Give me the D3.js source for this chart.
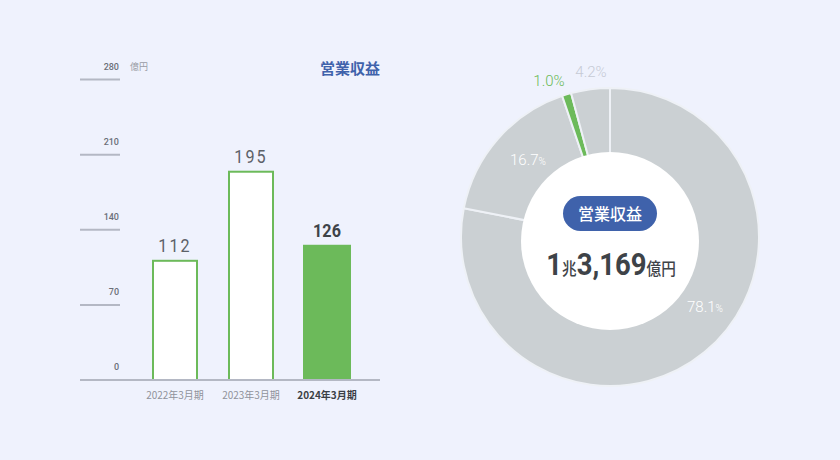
<!DOCTYPE html>
<html><head><meta charset="utf-8">
<script src="https://cdn.jsdelivr.net/npm/d3@7/dist/d3.min.js"></script>
<style>
html,body{margin:0;padding:0;background:#eff2fd;}
svg{display:block;font-family:"Noto Sans CJK JP","Noto Sans",sans-serif;}
</style></head>
<body>
<svg id="c" width="840" height="460"></svg>
<script>
const categories = ["2022年3月期", "2023年3月期", "2024年3月期"];
const values = [112, 195, 126];
const yTicks = [0, 70, 140, 210, 280];
const shareLabels = ["78.1", "16.7", "1.0", "4.2"];
const shareValues = [78.1, 16.7, 1.0, 4.2];
const totalParts = ["1", "兆", "3,169", "億円"];

const svg = d3.select("#c");
svg.append("rect").attr("width",840).attr("height",460).attr("fill","#eff2fd");
const numFont = "Roboto, 'Noto Sans', sans-serif";

// ---- Bar chart ----
const y = d3.scaleLinear().domain([0,280]).range([380,79.5]);
const x = d3.scalePoint().domain(categories).range([175,327]);
const bw = 46;

const g = svg.append("g");
yTicks.forEach(t=>{
  if(t>0) g.append("line").attr("x1",80).attr("x2",120).attr("y1",y(t)).attr("y2",y(t))
    .attr("stroke","#b4b8c4").attr("stroke-width",2);
  g.append("text").attr("x",119).attr("y",y(t)-10).attr("text-anchor","end")
    .attr("font-size",9).attr("fill","#6b6f78").attr("font-weight",500).attr("font-family",numFont).text(t);
});
g.append("text").attr("x",130).attr("y",69.5).attr("font-size",9).attr("fill","#999ca5").text("億円");
g.append("text").attr("x",380).attr("y",74).attr("text-anchor","end").attr("font-size",15).attr("font-weight",700).attr("fill","#3f62ab").text("営業収益");

categories.forEach((c,i)=>{
  const last = i===categories.length-1;
  const top = y(values[i]);
  if(last){
    g.append("rect").attr("x",x(c)-bw/2-1).attr("y",top).attr("width",bw+2).attr("height",380-top).attr("fill","#6cba5a");
  } else {
    g.append("rect").attr("x",x(c)-bw/2+1).attr("y",top+1).attr("width",bw-2).attr("height",380-top-1)
      .attr("fill","#ffffff").attr("stroke","#6cba5a").attr("stroke-width",2);
  }
  g.append("g").attr("transform",`translate(${x(c)},${top-8}) scale(0.85,1)`)
    .append("text").attr("text-anchor","middle")
    .attr("font-size",19).attr("letter-spacing", last?"0px":"2.5px")
    .attr("font-weight", last?700:400).attr("fill", last?"#3e4348":"#5c6168")
    .attr("font-family",numFont).text(values[i]);
  g.append("text").attr("x",x(c)).attr("y",399).attr("text-anchor","middle")
    .attr("font-size",10).attr("font-weight", last?700:400).attr("fill", last?"#3b3f45":"#8f939b").text(c);
});
g.append("line").attr("x1",80).attr("x2",380).attr("y1",380).attr("y2",380).attr("stroke","#b4b8c4").attr("stroke-width",2);

// ---- Donut ----
const cx=610, cy=237, R=149;
const dg = svg.append("g").attr("transform",`translate(${cx},${cy})`);
const pie = d3.pie().sort(null).value(d=>d)(shareValues);
const arc = d3.arc().innerRadius(0).outerRadius(R);
const colors = ["#cbd0d3","#cbd0d3","#6cba5a","#cbd0d3"];
dg.selectAll("path.s").data(pie).enter().append("path").attr("class","s")
  .attr("d",arc).attr("fill",(d,i)=>colors[i]).attr("stroke","#eef1f6").attr("stroke-width",2);
// inner white hole
svg.append("circle").attr("cx",610).attr("cy",241).attr("r",89).attr("fill","#ffffff");

const labCol = ["#ffffff","#ffffff","#6cba5a","#c6cad5"];
const labPos = [[705,312],[528,165],[549,86],[591,77]];
pie.forEach((d,i)=>{
  const t = svg.append("text").attr("x",labPos[i][0]).attr("y",labPos[i][1]).attr("text-anchor","middle")
    .attr("fill",labCol[i]).attr("font-size",15).attr("font-family",numFont).attr("font-weight",300);
  t.append("tspan").text(shareLabels[i]);
  t.append("tspan").attr("font-size", i<2?10:15).text("%");
});

// center pill
svg.append("rect").attr("x",563).attr("y",196).attr("width",94).attr("height",35).attr("rx",17.5).attr("fill","#3f62ab");
svg.append("text").attr("x",610).attr("y",219.5).attr("text-anchor","middle").attr("font-size",16).attr("font-weight",500)
  .attr("fill","#ffffff").text("営業収益");
const tt = svg.append("g").attr("transform","translate(611,275) scale(0.86,1)")
  .append("text").attr("text-anchor","middle").attr("fill","#3e4348").attr("font-weight",700);
tt.append("tspan").attr("font-size",32).attr("font-family",numFont).text(totalParts[0]);
tt.append("tspan").attr("font-size",17).attr("font-weight",500).text(totalParts[1]);
tt.append("tspan").attr("font-size",32).attr("font-family",numFont).text(totalParts[2]);
tt.append("tspan").attr("font-size",17).attr("font-weight",500).text(totalParts[3]);
</script>
</body></html>
